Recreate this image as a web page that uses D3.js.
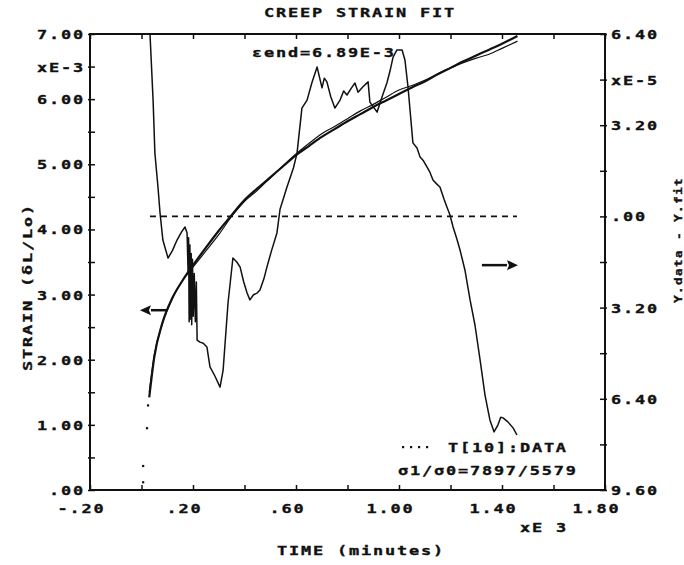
<!DOCTYPE html>
<html>
<head>
<meta charset="utf-8">
<script src="https://cdn.jsdelivr.net/npm/d3@7"></script>
<style>
  html, body { margin: 0; padding: 0; background: #fff; }
  svg { display: block; }
  text { font-family: "DejaVu Sans Mono", monospace; font-weight: bold; font-size: 13px; fill: #111;
         stroke: #111; stroke-width: 0.35px; letter-spacing: 1.4px; }
</style>
</head>
<body>
<svg id="chart" width="684" height="565"></svg>
<script>
// ---- data (time in 10^3 minutes, strain in 10^-3, residual in 10^-5) ----
const time       = [0.03, 0.05, 0.08, 0.12, 0.16, 0.20, 0.25, 0.30, 0.35, 0.40, 0.45, 0.50, 0.55, 0.60, 0.65, 0.70,
                    0.75, 0.80, 0.85, 0.90, 0.95, 1.00, 1.05, 1.10, 1.15, 1.20, 1.25, 1.30, 1.35, 1.40, 1.46];
const fitStrain  = [1.42, 2.05, 2.55, 2.95, 3.22, 3.45, 3.72, 3.98, 4.22, 4.45, 4.63, 4.80, 4.97, 5.14, 5.28, 5.42,
                    5.54, 5.66, 5.77, 5.88, 5.98, 6.08, 6.18, 6.27, 6.38, 6.48, 6.58, 6.67, 6.76, 6.85, 6.97];
const dataStrain = [1.50, 2.08, 2.54, 2.94, 3.22, 3.42, 3.67, 3.92, 4.20, 4.43, 4.60, 4.79, 4.98, 5.16, 5.32, 5.47,
                    5.58, 5.70, 5.82, 5.92, 6.03, 6.14, 6.21, 6.29, 6.39, 6.48, 6.56, 6.63, 6.69, 6.78, 6.89];

// initial loading readings (plotted as isolated points)
const loadTime   = [0.006, 0.006, 0.021, 0.025];
const loadStrain = [0.12, 0.37, 0.95, 1.30];

// residual y.data - y.fit
const residTime  = [0.030, 0.033, 0.045, 0.052, 0.064, 0.072, 0.083, 0.103, 0.120, 0.138, 0.155, 0.169, 0.177, 0.181,
                    0.183, 0.185, 0.188, 0.190, 0.193, 0.195, 0.198, 0.201, 0.205, 0.209, 0.213, 0.216, 0.227, 0.240,
                    0.254, 0.266, 0.285, 0.305, 0.317, 0.336, 0.355, 0.370, 0.383, 0.397, 0.410, 0.421, 0.435, 0.449,
                    0.460, 0.475, 0.487, 0.505, 0.526, 0.538, 0.565, 0.590, 0.604, 0.623, 0.643, 0.662, 0.682, 0.701,
                    0.710, 0.720, 0.735, 0.751, 0.771, 0.785, 0.798, 0.815, 0.829, 0.841, 0.860, 0.880, 0.887, 0.915,
                    0.934, 0.953, 0.965, 0.977, 0.992, 1.012, 1.023, 1.035, 1.054, 1.070, 1.082, 1.095, 1.109, 1.120,
                    1.132, 1.145, 1.159, 1.175, 1.186, 1.198, 1.210, 1.225, 1.237, 1.256, 1.276, 1.295, 1.315, 1.334,
                    1.353, 1.369, 1.384, 1.395, 1.404, 1.423, 1.443, 1.458];
const residValue = [8.00, 6.40, 4.08, 2.22, 1.03, 0.12, -0.83, -1.46, -1.20, -0.83, -0.55, -0.37, -0.58, -1.99,
                    -0.75, -3.70, -1.00, -3.60, -1.30, -3.80, -1.50, -3.50, -2.00, -3.70, -2.30, -4.34, -4.41, -4.45,
                    -4.58, -5.28, -5.60, -5.99, -5.39, -3.04, -1.46, -1.60, -1.78, -2.30, -2.69, -2.93, -2.75, -2.69,
                    -2.58, -2.20, -1.78, -1.20, -0.58, 0.25, 1.03, 1.70, 2.22, 3.80, 4.08, 4.70, 5.24, 4.51,
                    4.85, 4.72, 4.20, 3.80, 4.08, 4.40, 4.26, 4.50, 4.68, 4.36, 4.55, 4.72, 4.01, 3.66,
                    4.19, 4.68, 5.10, 5.59, 5.84, 5.84, 5.49, 4.54, 2.58, 2.40, 2.08, 1.95, 1.73, 1.55,
                    1.28, 1.15, 1.03, 0.60, 0.33, 0.05, -0.37, -0.80, -1.18, -1.88, -2.93, -3.81, -5.04, -6.27,
                    -7.14, -7.56, -7.32, -7.05, -7.07, -7.21, -7.42, -7.67];

// axis ticks and their labels
const leftTicks   = [0, 0.5, 1, 1.5, 2, 2.5, 3, 3.5, 4, 4.5, 5, 5.5, 6, 6.5, 7];
const leftLabels  = [".00", "", "1.00", "", "2.00", "", "3.00", "", "4.00", "", "5.00", "", "6.00", "xE-3", "7.00"];
const rightTicks  = [6.4, 4.8, 3.2, 1.6, 0, -1.6, -3.2, -4.8, -6.4, -8.0, -9.6];
const rightLabels = ["6.40", "xE-5", "3.20", "", ".00", "", "3.20", "", "6.40", "", "9.60"];
const bottomTicks  = [-0.2, 0, 0.2, 0.4, 0.6, 0.8, 1.0, 1.2, 1.4, 1.6, 1.8];
const bottomLabels = ["-.20", "", ".20", "", ".60", "", "1.00", "", "1.40", "", "1.80"];

// ---- layout ----
const X0 = 90, X1 = 605, Y0 = 34, Y1 = 490;
const SX = 1.3;   // horizontal stretch of the wide plotter font

const svg = d3.select("#chart");

const x  = d3.scaleLinear().domain([-0.2, 1.8]).range([X0, X1]);
const yL = d3.scaleLinear().domain([0, 7]).range([Y1, Y0]);
const yR = d3.scaleLinear().domain([-9.6, 6.4]).range([Y1, Y0]);

function put(parent, px, py, str, opt = {}) {
  const sx = opt.sx || SX;
  const rot = opt.rotate ? ` rotate(${opt.rotate})` : "";
  const t = parent.append("text")
    .attr("transform", `translate(${px},${py})${rot} scale(${sx},1)`)
    .attr("text-anchor", opt.anchor || "start")
    .attr("dy", "0.35em")
    .text(str);
  if (opt.size) t.style("font-size", opt.size + "px");
  if (opt.ls !== undefined) t.style("letter-spacing", opt.ls + "px");
  return t;
}

// ticks cross the frame: 5px inside, 2px outside
function styleAxis(g, outward) {
  g.attr("font-family", null).attr("font-size", null);
  g.select(".domain").remove();
  g.selectAll(".tick line").attr("stroke", "#111").attr("stroke-width", 1.5).each(function () {
    const l = d3.select(this);
    if (l.attr("x2") !== null && +l.attr("x2") !== 0) l.attr("x1", outward);
    if (l.attr("y2") !== null && +l.attr("y2") !== 0) l.attr("y1", outward);
  });
}

// left axis (strain)
const gL = svg.append("g").attr("transform", `translate(${X0},0)`)
  .call(d3.axisLeft(yL).tickValues(leftTicks).tickFormat((d, i) => leftLabels[i]).tickSize(-5).tickSizeOuter(0));
styleAxis(gL, -2);
gL.selectAll(".tick text").attr("x", -5 / SX).attr("dy", "0.35em").attr("transform", `scale(${SX},1)`);

// right axis (residual)
const gR = svg.append("g").attr("transform", `translate(${X1},0)`)
  .call(d3.axisRight(yR).tickValues(rightTicks).tickFormat((d, i) => rightLabels[i]).tickSize(-5).tickSizeOuter(0));
styleAxis(gR, 2);
gR.selectAll(".tick text").attr("x", 6 / SX).attr("dy", "0.35em").attr("transform", `scale(${SX},1)`);

// bottom axis (time)
const gB = svg.append("g").attr("transform", `translate(0,${Y1})`)
  .call(d3.axisBottom(x).tickValues(bottomTicks).tickFormat((d, i) => bottomLabels[i]).tickSize(-5).tickSizeOuter(0));
styleAxis(gB, 1);
gB.selectAll(".tick text").attr("x", -9 / SX).attr("y", 18).attr("dy", "0.35em")
  .attr("text-anchor", "middle").attr("transform", `scale(${SX},1)`);

// top axis (ticks only)
const gT = svg.append("g").attr("transform", `translate(0,${Y0})`)
  .call(d3.axisTop(x).tickValues(bottomTicks).tickFormat("").tickSize(-5).tickSizeOuter(0));
styleAxis(gT, -1);

// frame
svg.append("rect").attr("x", X0).attr("y", Y0).attr("width", X1 - X0).attr("height", Y1 - Y0)
  .attr("fill", "none").attr("stroke", "#111").attr("stroke-width", 2);

// clip to plot area
svg.append("clipPath").attr("id", "plot").append("rect")
  .attr("x", X0).attr("y", Y0).attr("width", X1 - X0).attr("height", Y1 - Y0);
const plot = svg.append("g").attr("clip-path", "url(#plot)");

// zero line of the residual
plot.append("line")
  .attr("x1", x(residTime[1])).attr("x2", x(residTime[residTime.length - 1]))
  .attr("y1", yR(0)).attr("y2", yR(0))
  .attr("stroke", "#111").attr("stroke-width", 1.6).attr("stroke-dasharray", "6,5");

// residual trace
const residLine = d3.line().x(d => x(d[0])).y(d => yR(d[1]));
plot.append("path").datum(d3.zip(residTime, residValue))
  .attr("d", residLine).attr("fill", "none").attr("stroke", "#111").attr("stroke-width", 1.5)
  .attr("stroke-linejoin", "round");

// fitted creep curve
const strainLine = d3.line().x(d => x(d[0])).y(d => yL(d[1])).curve(d3.curveMonotoneX);
plot.append("path").datum(d3.zip(time, fitStrain))
  .attr("d", strainLine).attr("fill", "none").attr("stroke", "#111").attr("stroke-width", 2.2);

// measured strain
plot.append("path").datum(d3.zip(time, dataStrain))
  .attr("d", strainLine).attr("fill", "none").attr("stroke", "#111").attr("stroke-width", 1.2);

// loading points
plot.selectAll("rect.load").data(d3.zip(loadTime, loadStrain)).join("rect")
  .attr("class", "load")
  .attr("x", d => x(d[0]) - 1).attr("y", d => yL(d[1]) - 1)
  .attr("width", 2.2).attr("height", 2.2).attr("fill", "#111");

// arrows pointing to the axis each curve belongs to
function arrow(xa, xb, yy, dir) {
  const tip = dir < 0 ? xa : xb;
  const base = tip - dir * 11;
  svg.append("line").attr("x1", dir < 0 ? base : xa).attr("x2", dir < 0 ? xb : base)
    .attr("y1", yy).attr("y2", yy).attr("stroke", "#111").attr("stroke-width", 2.5);
  svg.append("path")
    .attr("d", `M${tip},${yy} L${base},${yy - 5} L${base + dir * 2},${yy} L${base},${yy + 5} Z`)
    .attr("fill", "#111");
}
arrow(x(-0.006), x(0.097), yL(2.76), -1);
arrow(x(1.322), x(1.462), yR(-1.71), 1);

// texts
put(svg, 360, 12, "CREEP STRAIN FIT", { anchor: "middle" });
put(svg, 252, 52, "εend=6.89E-3");
put(svg, 361, 550, "TIME (minutes)", { anchor: "middle" });
put(svg, 520, 527, "xE 3");
put(svg, 27, 287, "STRAIN (δL/Lo)", { anchor: "middle", rotate: -90 });
put(svg, 678, 240, "Y.data - Y.fit", { anchor: "middle", rotate: -90, size: 11, sx: 1.15, ls: 1.2 });

// legend
svg.selectAll("rect.legdot").data([0, 1, 2, 3]).join("rect")
  .attr("class", "legdot")
  .attr("x", d => 402 + d * 8).attr("y", 446).attr("width", 2.2).attr("height", 2.2).attr("fill", "#111");
put(svg, 448, 447, "T[10]:DATA");
put(svg, 398, 470, "σ1/σ0=7897/5579");
</script>
</body>
</html>
